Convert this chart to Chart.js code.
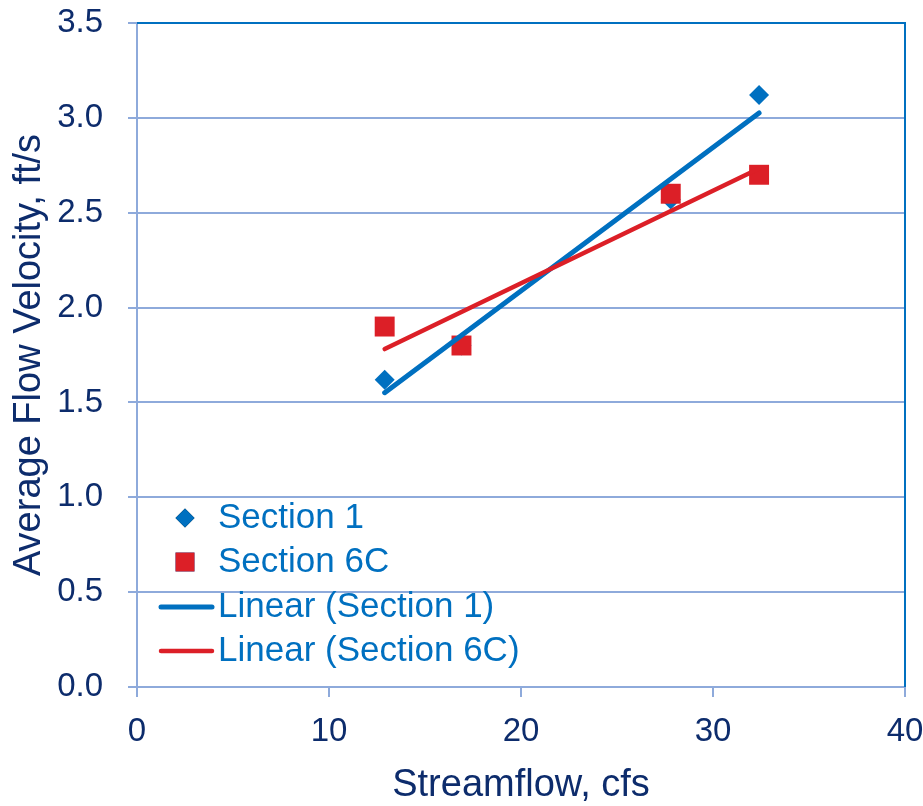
<!DOCTYPE html>
<html>
<head>
<meta charset="utf-8">
<script src="https://cdn.jsdelivr.net/npm/chart.js@4.4.1/dist/chart.umd.min.js"></script>
<style>
  html, body { margin: 0; padding: 0; background: #fff; }
  #wrap { width: 923px; height: 806px; }
</style>
</head>
<body>
<div id="wrap"><canvas id="velocidad"></canvas></div>
<script>
// measured points, streamflow (cfs) vs average velocity (ft/s)
var flowSec1 = [12.9, 16.9, 27.8, 32.4];
var velSec1 = [1.62, 1.80, 2.57, 3.12];
var flowSec6C = [12.9, 16.9, 27.8, 32.4];
var velSec6C = [1.90, 1.80, 2.60, 2.70];

var xTicks = [0, 10, 20, 30, 40];
var yTicks = [0, 0.5, 1.0, 1.5, 2.0, 2.5, 3.0, 3.5];

var AZUL = '#0070C0';
var ROJO = '#DC1F27';
var MARINO = '#0D2C6C';
var REJILLA = '#8EAADB';
var FUENTE = "'Liberation Sans Narrow', 'Arial Narrow', 'Liberation Sans', sans-serif";

function puntos(xs, ys) {
    var out = [];
    for (var i = 0; i < xs.length; i++) out.push({ x: xs[i], y: ys[i] });
    return out;
}

// least squares line, from first to last x
function tendencia(xs, ys) {
    var n = xs.length, mx = 0, my = 0, sxy = 0, sxx = 0;
    for (var i = 0; i < n; i++) { mx += xs[i]; my += ys[i]; }
    mx /= n; my /= n;
    for (var i = 0; i < n; i++) {
        sxy += (xs[i] - mx) * (ys[i] - my);
        sxx += (xs[i] - mx) * (xs[i] - mx);
    }
    var m = sxy / sxx, b = my - m * mx;
    var x0 = Math.min.apply(null, xs), x1 = Math.max.apply(null, xs);
    return [{ x: x0, y: m * x0 + b }, { x: x1, y: m * x1 + b }];
}

// legend drawn inside the plot, bottom left
var leyenda = {
    id: 'leyenda',
    afterDatasetsDraw: function (chart) {
        var ctx = chart.ctx, a = chart.chartArea;
        var filas = [169, 125, 80, 36];
        ctx.save();
        chart.data.datasets.forEach(function (ds, i) {
            var y = a.bottom - filas[i];
            if (ds.showLine) {
                ctx.strokeStyle = ds.borderColor;
                ctx.lineWidth = ds.borderWidth;
                ctx.lineCap = 'round';
                ctx.beginPath();
                ctx.moveTo(a.left + 24, y);
                ctx.lineTo(a.left + 75, y);
                ctx.stroke();
            } else {
                Chart.helpers.drawPoint(ctx, {
                    pointStyle: ds.pointStyle, radius: ds.pointRadius * 0.95, borderWidth: 0
                }, a.left + 48, y);
                ctx.fillStyle = ds.backgroundColor;
                ctx.fill();
            }
            ctx.fillStyle = AZUL;
            ctx.font = '35px ' + FUENTE;
            ctx.textBaseline = 'middle';
            ctx.textAlign = 'left';
            ctx.fillText(ds.label, a.left + 81, y);
        });
        ctx.restore();
    }
};

// blue frame on top and right of the plot
var marco = {
    id: 'marco',
    beforeDatasetsDraw: function (chart) {
        var ctx = chart.ctx, a = chart.chartArea;
        ctx.save();
        ctx.strokeStyle = AZUL;
        ctx.lineWidth = 2;
        ctx.beginPath();
        ctx.moveTo(a.left, a.top);
        ctx.lineTo(a.right, a.top);
        ctx.lineTo(a.right, a.bottom);
        ctx.stroke();
        ctx.restore();
    }
};

new Chart(document.getElementById('velocidad'), {
    type: 'scatter',
    data: {
        datasets: [
            {
                label: 'Section 1',
                data: puntos(flowSec1, velSec1),
                pointStyle: 'rectRot',
                pointRadius: 10,
                backgroundColor: AZUL,
                borderWidth: 0,
                order: 4
            },
            {
                label: 'Section 6C',
                data: puntos(flowSec6C, velSec6C),
                pointStyle: 'rect',
                pointRadius: 14.1,
                backgroundColor: ROJO,
                borderWidth: 0,
                order: 3
            },
            {
                label: 'Linear (Section 1)',
                data: tendencia(flowSec1, velSec1),
                showLine: true,
                pointRadius: 0,
                borderColor: AZUL,
                borderWidth: 5,
                borderCapStyle: 'round',
                order: 2
            },
            {
                label: 'Linear (Section 6C)',
                data: tendencia(flowSec6C, velSec6C),
                showLine: true,
                pointRadius: 0,
                borderColor: ROJO,
                borderWidth: 4.5,
                borderCapStyle: 'round',
                order: 1
            }
        ]
    },
    options: {
        responsive: true,
        maintainAspectRatio: false,
        animation: false,
        layout: { padding: { top: 23, right: 18, left: 0, bottom: 0 } },
        plugins: {
            legend: { display: false },
            tooltip: { enabled: false }
        },
        scales: {
            x: {
                type: 'linear',
                min: 0,
                max: 40,
                afterBuildTicks: function (s) { s.ticks = xTicks.map(function (v) { return { value: v }; }); },
                afterFit: function (s) { s.height = 119; s.paddingLeft = 0; s.paddingRight = 0; },
                grid: { drawOnChartArea: false, color: REJILLA, lineWidth: 2, tickLength: 10 },
                border: { color: REJILLA, width: 2 },
                ticks: {
                    color: MARINO,
                    padding: 18,
                    maxRotation: 0,
                    font: { family: FUENTE, size: 33, lineHeight: 1 }
                },
                title: {
                    display: true,
                    text: 'Streamflow, cfs',
                    color: MARINO,
                    padding: { top: 0, bottom: 1 },
                    font: { family: FUENTE, size: 38, lineHeight: 1 }
                }
            },
            y: {
                type: 'linear',
                min: 0,
                max: 3.5,
                afterBuildTicks: function (s) { s.ticks = yTicks.map(function (v) { return { value: v }; }); },
                afterFit: function (s) { s.width = 137; s.paddingTop = 0; s.paddingBottom = 0; },
                grid: { color: REJILLA, lineWidth: 2, tickLength: 9 },
                border: { color: REJILLA, width: 2 },
                ticks: {
                    color: MARINO,
                    padding: 25,
                    font: { family: FUENTE, size: 33, lineHeight: 1 },
                    callback: function (v) { return v.toFixed(1); }
                },
                title: {
                    display: true,
                    text: 'Average Flow Velocity, ft/s',
                    color: MARINO,
                    padding: { top: 11, bottom: 0 },
                    font: { family: FUENTE, size: 38, lineHeight: 1 }
                }
            }
        }
    },
    plugins: [marco, leyenda]
});
</script>
</body>
</html>
